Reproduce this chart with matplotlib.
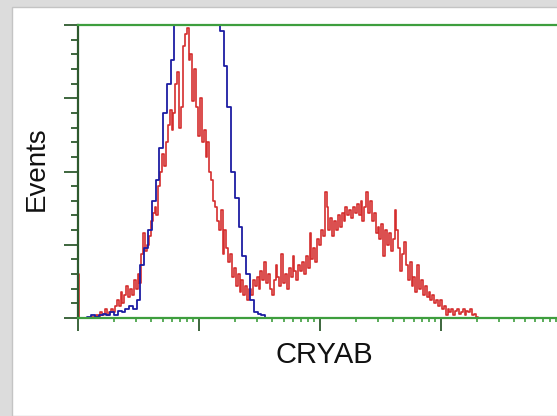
import numpy as np
import matplotlib
matplotlib.use("Agg")
import matplotlib.pyplot as plt
from matplotlib.patches import Rectangle
from matplotlib.ticker import MultipleLocator, LogLocator, NullFormatter

# instrument channel scales: log channels over 4 decades
channels_128 = np.logspace(0, 4, 129)[:-1]
channels_256 = np.logspace(0, 4, 257)[:-1]

# control (blue) histogram counts, 128 channels
control = [0, 0, 0, 0.5, 1, 0.5, 1, 1.5, 1, 2, 1, 2.5, 2, 3, 4, 3,
           6, 18, 24, 30, 40, 47, 58, 70, 80, 88, 105, 125, 140, 155, 165, 170,
           172, 168, 160, 148, 130, 112, 98, 86, 72, 50, 41, 31, 21, 15, 6, 2,
           1.5, 1, 0] + [0] * 77

# CRYAB stained (red) histogram counts, 256 channels
cryab = [15, 0, 0, 0, 0, 0, 0, 0, 0.5, 0, 1, 0.5, 2, 1, 1.5, 3,
         1, 2, 3, 2, 4, 6, 4, 9, 5, 8, 11, 7, 10, 8, 13, 10,
         15, 12, 22, 29, 23, 25, 28, 33, 36, 38, 35, 45, 50, 56, 52, 60,
         66, 71, 64, 70, 80, 84, 65, 72, 93, 97, 99, 88, 90, 74, 85, 72,
         62, 75, 60, 64, 55, 60, 50, 47, 40, 38, 33, 30, 37, 22, 30, 24,
         19, 22, 14, 17, 11, 15, 9, 13, 8, 11, 6, 10, 8, 13, 11, 14,
         10, 16, 13, 19, 12, 15, 10, 8, 13, 18, 14, 11, 22, 12, 15, 10,
         17, 14, 21, 16, 13, 18, 16, 19, 15, 21, 17, 29, 20, 24, 19, 27,
         25, 30, 28, 43, 38, 30, 34, 28, 33, 30, 35, 31, 36, 33, 38, 35,
         37, 34, 38, 36, 39, 35, 40, 33, 38, 43, 36, 40, 33, 36, 29, 31,
         27, 32, 21, 30, 25, 29, 23, 27, 37, 30, 24, 16, 22, 26, 18, 13,
         19, 11, 14, 9, 18, 10, 13, 8, 11, 7, 9, 6, 8, 5, 6, 4,
         6, 3, 4, 1, 3, 2, 3, 1, 2.5, 3, 1.5, 2, 3, 1, 2.5, 2,
         3, 1, 1.5, 0.5] + [0] * 44

W, H = 557, 416
fig = plt.figure(figsize=(W / 100, H / 100), dpi=100)
fig.patch.set_facecolor("#dcdcdc")

# white panel inside the light grey frame (left and top)
fig.patches.append(Rectangle((12 / W, 0), 1, 1 - 7 / H, transform=fig.transFigure,
                             facecolor="white", edgecolor="#c4c4c4", lw=1, zorder=-1))

left, right, top, bottom = 78, 557, 25, 318
ax = fig.add_axes([left / W, 1 - bottom / H, (right - left) / W, (bottom - top) / H])
ax.set_zorder(2)
ax.set_facecolor("white")

ax.step(channels_256, cryab, where="mid", color="#d42e2e", lw=1.2)
ax.step(channels_128, control, where="mid", color="#1c1ca2", lw=1.3)

ax.set_xscale("log")
ax.set_xlim(1, 10 ** 3.96)
ax.set_ylim(0, 100)

green = "#3e9e3e"
dark_green = "#2e5a2e"
for s in ["top", "bottom"]:
    ax.spines[s].set_color(green)
    ax.spines[s].set_linewidth(1.6)
ax.spines["left"].set_color(dark_green)
ax.spines["left"].set_linewidth(1.6)
ax.spines["right"].set_visible(False)

ax.yaxis.set_major_locator(MultipleLocator(25))
ax.yaxis.set_minor_locator(MultipleLocator(5))
ax.xaxis.set_major_locator(LogLocator(base=10, numticks=10))
ax.xaxis.set_minor_locator(LogLocator(base=10, subs=np.arange(2, 10), numticks=10))
ax.xaxis.set_major_formatter(NullFormatter())
ax.xaxis.set_minor_formatter(NullFormatter())
ax.yaxis.set_major_formatter(NullFormatter())

ax.tick_params(axis="y", which="major", direction="out", length=10, width=1.3, color=dark_green)
ax.tick_params(axis="y", which="minor", direction="out", length=5, width=1.3, color=dark_green)
ax.tick_params(axis="x", which="major", direction="out", length=9, width=1.3, color=dark_green)
ax.tick_params(axis="x", which="minor", direction="out", length=3, width=1.2, color=green)

fig.text(37 / W, 1 - 169 / H, "Events", rotation=90, ha="center", va="center",
         fontsize=20, family="Liberation Sans", color="#111111")
fig.text(324 / W, 1 - 355 / H, "CRYAB", ha="center", va="center",
         fontsize=21, family="Liberation Sans", color="#111111")

fig.savefig("out.png", dpi=100)
